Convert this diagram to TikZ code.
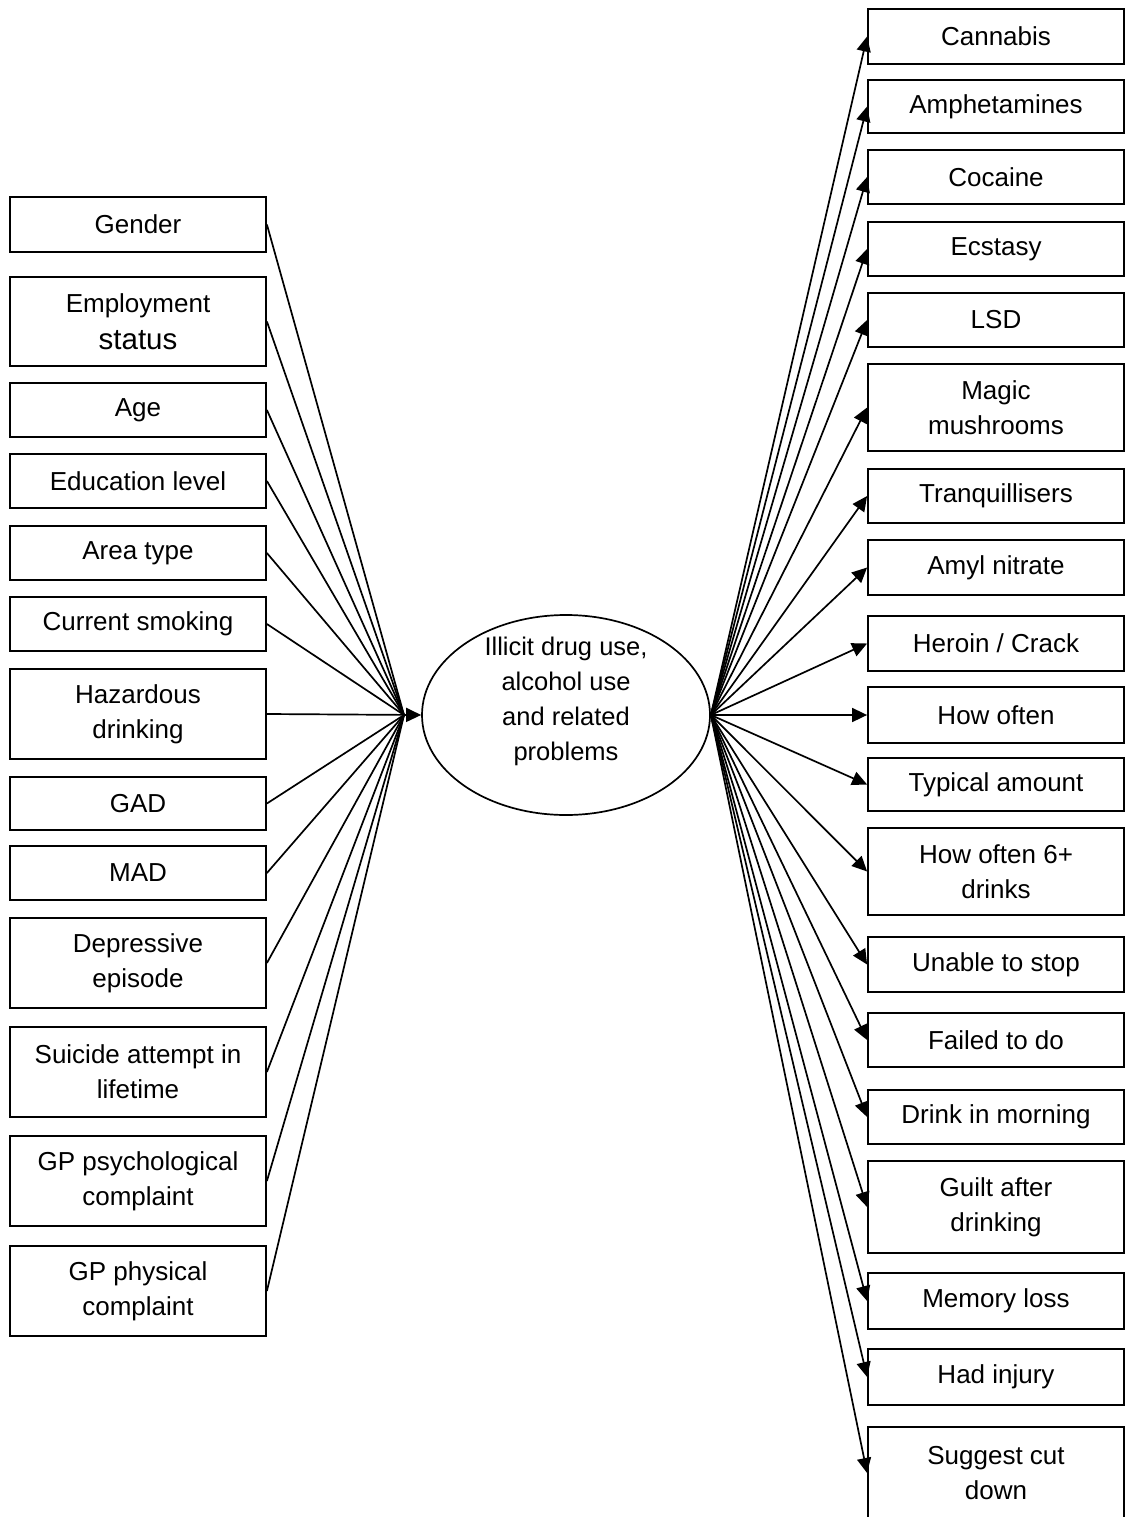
\documentclass[tikz,border=0pt]{standalone}
\usepackage{fontspec}
\setmainfont{Liberation Sans}
\usetikzlibrary{arrows.meta,shapes.geometric}
\tikzset{
  box/.style={draw, line width=1.8pt, minimum width=256pt, inner sep=0pt,
    align=center, font=\fontsize{26}{35}\selectfont},
  link/.style={line width=1.7pt},
  arrowlink/.style={line width=1.7pt, -{Triangle[length=15pt,width=14pt]}},
  hubnode/.style={draw, ellipse, line width=1.7pt, minimum width=288pt,
    minimum height=200pt, inner sep=0pt},
  hubtext/.style={align=center, inner sep=0pt, font=\fontsize{25.5}{35}\selectfont}
}
\begin{document}
\begin{tikzpicture}[x=1pt,y=-1pt]
\clip (0,0) rectangle (1127,1517);
\fill[white] (0,0) rectangle (1127,1517);

% central construct
\node[hubnode] (c) at (566,715) {};
\node[hubtext] (ct) at (566,701) {Illicit drug use,\\alcohol use\\and related\\problems};
\coordinate (hub) at (404,715);

% predictors (left column)
\node[box, minimum height=55pt] (l1) at (138,224.5) {Gender};
\node[box, minimum height=89pt] (l2) at (138,321.5) {Employment\\[2pt]{\fontsize{29.5}{35}\selectfont status}};
\node[box, minimum height=54pt] (l3) at (138,410) {Age};
\node[box, minimum height=54pt] (l4) at (138,481) {Education level};
\node[box, minimum height=54pt] (l5) at (138,553) {Area type};
\node[box, minimum height=54pt] (l6) at (138,624) {Current smoking};
\node[box, minimum height=90pt] (l7) at (138,714) {Hazardous\\drinking};
\node[box, minimum height=53pt] (l8) at (138,803.5) {GAD};
\node[box, minimum height=54pt] (l9) at (138,873) {MAD};
\node[box, minimum height=90pt] (l10) at (138,963) {Depressive\\episode};
\node[box, minimum height=90pt] (l11) at (138,1072) {Suicide attempt in\\lifetime};
\node[box, minimum height=90pt] (l12) at (138,1181) {GP psychological\\complaint};
\node[box, minimum height=90pt] (l13) at (138,1291) {GP physical\\complaint};

% outcomes (right column)
\node[box, minimum height=55pt] (r1) at (996,36.5) {Cannabis};
\node[box, minimum height=53pt] (r2) at (996,106.5) {Amphetamines};
\node[box, minimum height=54pt] (r3) at (996,177) {Cocaine};
\node[box, minimum height=54pt] (r4) at (996,249) {Ecstasy};
\node[box, minimum height=54pt] (r5) at (996,320) {LSD};
\node[box, minimum height=87pt] (r6) at (996,407.5) {Magic\\mushrooms};
\node[box, minimum height=54pt] (r7) at (996,496) {Tranquillisers};
\node[box, minimum height=55pt] (r8) at (996,567.5) {Amyl nitrate};
\node[box, minimum height=55pt] (r9) at (996,643.5) {Heroin / Crack};
\node[box, minimum height=56pt] (r10) at (996,715) {How often};
\node[box, minimum height=53pt] (r11) at (996,784.5) {Typical amount};
\node[box, minimum height=87pt] (r12) at (996,871.5) {How often 6+\\drinks};
\node[box, minimum height=55pt] (r13) at (996,964.5) {Unable to stop};
\node[box, minimum height=54pt] (r14) at (996,1040) {Failed to do};
\node[box, minimum height=54pt] (r15) at (996,1117) {Drink in morning};
\node[box, minimum height=92pt] (r16) at (996,1207) {Guilt after\\drinking};
\node[box, minimum height=56pt] (r17) at (996,1301) {Memory loss};
\node[box, minimum height=56pt] (r18) at (996,1377) {Had injury};
\node[box, minimum height=92pt] (r19) at (996,1473) {Suggest cut\\down};

% predictor paths converge on the construct
\foreach \i in {1,...,6,8,9,10,11,12,13}
  \draw[link] (l\i.east) -- (hub);
\draw[arrowlink] (l7.east) -- (c.west);

% construct paths to each outcome
\foreach \i in {1,...,19}
  \draw[arrowlink] (c.east) -- (r\i.west);
\end{tikzpicture}
\end{document}
